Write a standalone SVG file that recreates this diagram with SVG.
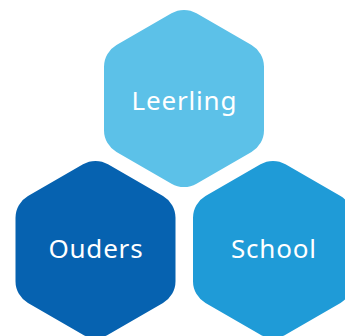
<svg xmlns="http://www.w3.org/2000/svg" xmlns:xlink="http://www.w3.org/1999/xlink" width="345" height="336" viewBox="0 0 345 336">
  <style>
    .lbl { font-family: "Noto Sans", "Open Sans", sans-serif; font-size: 26px; letter-spacing: 0.8px; fill: #ffffff; text-anchor: middle; }
  </style>
  <defs>
    <path id="hex" d="M-12.5,-85.18 A25,25 0 0 1 12.5,-85.18 L67.5,-53.4 A25,25 0 0 1 80,-31.77 L80,31.77 A25,25 0 0 1 67.5,53.4 L12.5,85.18 A25,25 0 0 1 -12.5,85.18 L-67.5,53.4 A25,25 0 0 1 -80,31.77 L-80,-31.77 A25,25 0 0 1 -67.5,-53.4 Z"/>
  </defs>
  <rect width="345" height="336" fill="#ffffff"/>
  <g id="connectors"/>
  <g id="leerling">
    <use xlink:href="#hex" href="#hex" transform="translate(184,98.5)" fill="#5cc1e8"/>
    <text class="lbl" x="184.4" y="110">Leerling</text>
  </g>
  <g id="ouders">
    <use xlink:href="#hex" href="#hex" transform="translate(95.5,249.5)" fill="#0662b0"/>
    <text class="lbl" x="95.9" y="258">Ouders</text>
  </g>
  <g id="school">
    <use xlink:href="#hex" href="#hex" transform="translate(273,249.5)" fill="#1f9bd7"/>
    <text class="lbl" x="273.9" y="258">School</text>
  </g>
</svg>
